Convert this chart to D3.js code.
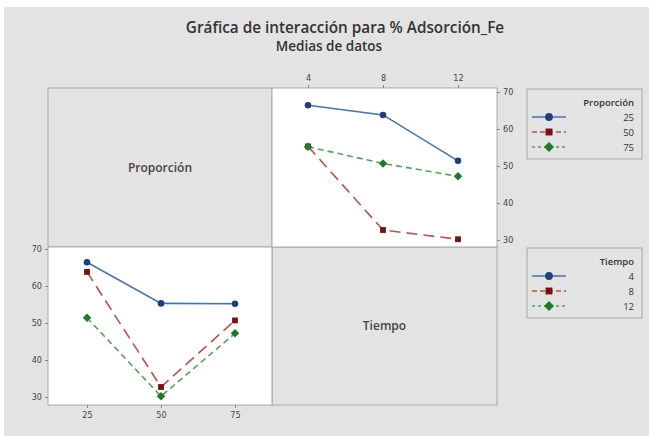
<!DOCTYPE html>
<html><head><meta charset="utf-8">
<script src="https://cdn.jsdelivr.net/npm/d3@7"></script>
<style>body{margin:0;background:#fff;}svg{display:block;font-family:"Open Sans","Noto Sans",sans-serif;}</style>
</head><body>
<svg id="c" width="649" height="436"></svg>
<script>
// ---- data ----
const proporcion = [25, 50, 75];
const tiempo = [4, 8, 12];
// means of % Adsorción_Fe by Proporción (rows) across Tiempo 4, 8, 12
const prop25 = [66.4, 63.8, 51.4];
const prop50 = [55.3, 32.7, 30.2];
const prop75 = [55.2, 50.7, 47.2];
const yTicks = [30, 40, 50, 60, 70];
const seriesNames = ["25", "50", "75"];
const tiempoNames = ["4", "8", "12"];

const propRows = [prop25, prop50, prop75];
// by Tiempo across Proporción
const tiempoRows = tiempo.map((t, j) => propRows.map(r => r[j]));

const styles = [
  {line:"#4472B8", mark:"#1F3F78", dash:null, shape:d3.symbolCircle, size:34},
  {line:"#C0504D", mark:"#7A1010", dash:"11,6", shape:d3.symbolSquare, size:34},
  {line:"#4FA84F", mark:"#1B7A2E", dash:"6,4", shape:d3.symbolDiamond2, size:46}
];

const svg = d3.select("#c");
// background
svg.append("rect").attr("x",4).attr("y",7).attr("width",645).attr("height",429).attr("fill","#E3E3E3");

svg.append("text").attr("x",345).attr("y",33).attr("text-anchor","middle")
  .attr("font-size",15.3).attr("font-weight",600).attr("fill","#333").text("Gráfica de interacción para % Adsorción_Fe");
svg.append("text").attr("x",329).attr("y",51).attr("text-anchor","middle")
  .attr("font-size",13.5).attr("font-weight",600).attr("fill","#333").text("Medias de datos");

const L = 48, M = 272, R = 497, T = 88, H = 247, B = 405;
const border = "#A8A8A8";

// label cells
svg.append("rect").attr("x",L).attr("y",T).attr("width",M-L).attr("height",H-T).attr("fill","#E3E3E3").attr("stroke",border);
svg.append("rect").attr("x",M).attr("y",H).attr("width",R-M).attr("height",B-H).attr("fill","#E3E3E3").attr("stroke",border);
svg.append("text").attr("x",(L+M)/2).attr("y",(T+H)/2+4).attr("text-anchor","middle").attr("font-size",12).attr("font-weight",600).attr("fill","#444").text("Proporción");
svg.append("text").attr("x",(M+R)/2).attr("y",(H+B)/2+4).attr("text-anchor","middle").attr("font-size",12).attr("font-weight",600).attr("fill","#444").text("Tiempo");

// plot cells
svg.append("rect").attr("x",M).attr("y",T).attr("width",R-M).attr("height",H-T).attr("fill","#fff").attr("stroke",border);
svg.append("rect").attr("x",L).attr("y",H).attr("width",M-L).attr("height",B-H).attr("fill","#fff").attr("stroke",border);

// scales
const xT = d3.scaleLinear().domain([4,12]).range([308,458]);
const yTR = d3.scaleLinear().domain([30,70]).range([240,92]);
const xP = d3.scaleLinear().domain([25,75]).range([87,235]);
const yBL = d3.scaleLinear().domain([30,70]).range([397,249]);

function styleAxis(g){
  g.select(".domain").remove();
  g.selectAll("line").attr("stroke","#888");
  g.selectAll("text").attr("font-size",9).attr("fill","#444").attr("font-family","'Liberation Sans Narrow','DejaVu Sans Condensed',sans-serif");
}
svg.append("g").attr("transform",`translate(0,${T})`).call(d3.axisTop(xT).tickValues(tiempo).tickSize(3).tickPadding(4)).call(styleAxis);
svg.append("g").attr("transform",`translate(${R},0)`).call(d3.axisRight(yTR).tickValues(yTicks).tickSize(3).tickPadding(3)).call(styleAxis);
svg.append("g").attr("transform",`translate(${L},0)`).call(d3.axisLeft(yBL).tickValues(yTicks).tickSize(3).tickPadding(3)).call(styleAxis);
svg.append("g").attr("transform",`translate(0,${B})`).call(d3.axisBottom(xP).tickValues(proporcion).tickSize(3).tickPadding(4)).call(styleAxis);

function drawSeries(rows, xs, xScale, yScale){
  rows.forEach((vals, i) => {
    const st = styles[i];
    const pts = vals.map((v,k)=>[xScale(xs[k]), yScale(v)]);
    svg.append("path").attr("d", d3.line()(pts)).attr("fill","none")
      .attr("stroke", st.line).attr("stroke-width",1.6).attr("stroke-dasharray", st.dash);
    pts.forEach(p => {
      svg.append("path").attr("d", d3.symbol().type(st.shape).size(st.size)())
        .attr("transform",`translate(${p[0]},${p[1]})`).attr("fill", st.mark);
    });
  });
}
drawSeries(propRows, tiempo, xT, yTR);
drawSeries(tiempoRows, proporcion, xP, yBL);

// legends
function legend(y0, title, names){
  svg.append("rect").attr("x",527).attr("y",y0).attr("width",115).attr("height",70).attr("fill","#E3E3E3").attr("stroke",border);
  svg.append("text").attr("x",634).attr("y",y0+17).attr("text-anchor","end").attr("font-size",9.5).attr("font-weight",600).attr("fill","#333").text(title);
  names.forEach((n,i) => {
    const st = styles[i];
    const yy = y0 + 28 + i*15;
    svg.append("line").attr("x1",532).attr("x2",566).attr("y1",yy).attr("y2",yy)
      .attr("stroke",st.line).attr("stroke-width",1.6).attr("stroke-dasharray", st.dash ? (i===1?"5,3":"3,3") : null);
    svg.append("path").attr("d", d3.symbol().type(st.shape).size(st.size*1.4)())
      .attr("transform",`translate(549,${yy})`).attr("fill", st.mark);
    svg.append("text").attr("x",634).attr("y",yy+3.5).attr("text-anchor","end").attr("font-size",9.5).attr("fill","#333").text(n);
  });
}
legend(89, "Proporción", seriesNames);
legend(248, "Tiempo", tiempoNames);
</script>
</body></html>
